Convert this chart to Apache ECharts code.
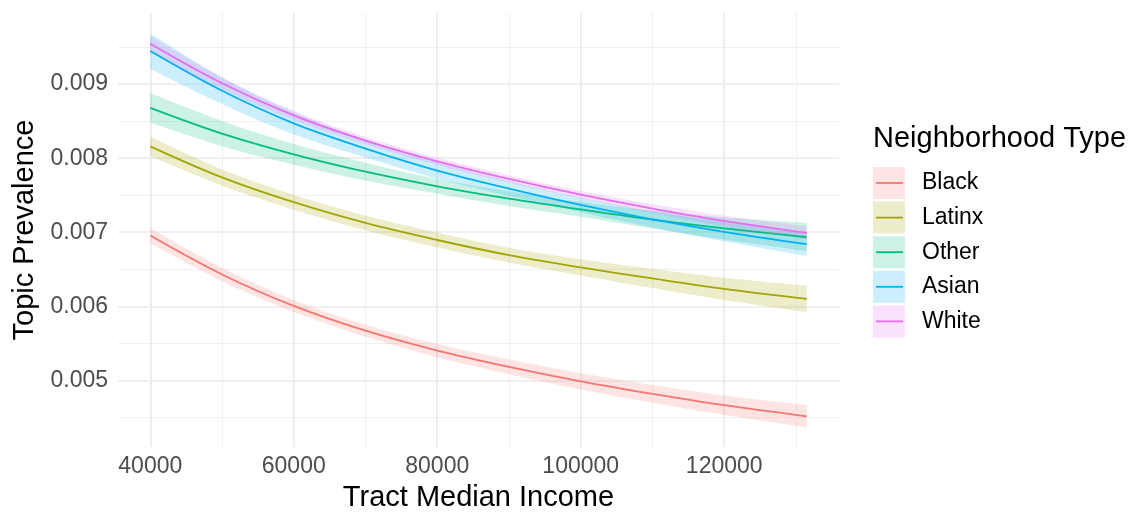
<!DOCTYPE html>
<html>
<head>
<meta charset="utf-8">
<script src="https://cdn.jsdelivr.net/npm/echarts@6/dist/echarts.min.js"></script>
<style>
  html, body { margin: 0; padding: 0; background: #ffffff; }
  #chart { width: 1137px; height: 513px; }
</style>
</head>
<body>
<div id="chart"></div>
<script>
// Tract median income at which the fitted curves are evaluated
const incomes = [40000, 50000, 60000, 70000, 80000, 90000, 100000, 110000, 120000, 131500];

const groups = ['Black', 'Latinx', 'Other', 'Asian', 'White'];
const groupColors = ['#F8766D', '#A3A500', '#00BF7D', '#00B0F6', '#E76BF3'];

// Fitted topic prevalence with lower / upper confidence bounds
const fitBlack  = [0.006955, 0.006430, 0.006005, 0.005670, 0.005402, 0.005182, 0.004987, 0.004818, 0.004664, 0.004514];
const lowBlack  = [0.006855, 0.006340, 0.005925, 0.005590, 0.005312, 0.005082, 0.004877, 0.004698, 0.004534, 0.004364];
const highBlack = [0.007055, 0.006520, 0.006085, 0.005750, 0.005492, 0.005282, 0.005097, 0.004938, 0.004794, 0.004664];

const fitLatinx  = [0.008160, 0.007740, 0.007405, 0.007125, 0.006895, 0.006690, 0.006525, 0.006376, 0.006236, 0.006100];
const lowLatinx  = [0.008030, 0.007630, 0.007305, 0.007025, 0.006795, 0.006590, 0.006415, 0.006246, 0.006086, 0.005920];
const highLatinx = [0.008290, 0.007850, 0.007505, 0.007225, 0.006995, 0.006790, 0.006635, 0.006506, 0.006386, 0.006280];

const fitOther  = [0.008680, 0.008332, 0.008052, 0.007817, 0.007620, 0.007453, 0.007308, 0.007170, 0.007051, 0.006935];
const lowOther  = [0.008480, 0.008162, 0.007912, 0.007697, 0.007520, 0.007353, 0.007208, 0.007050, 0.006901, 0.006745];
const highOther = [0.008880, 0.008502, 0.008192, 0.007937, 0.007720, 0.007553, 0.007408, 0.007290, 0.007201, 0.007125];

const fitAsian  = [0.009446, 0.008910, 0.008470, 0.008130, 0.007833, 0.007590, 0.007369, 0.007174, 0.007006, 0.006840];
const lowAsian  = [0.009206, 0.008730, 0.008320, 0.008010, 0.007723, 0.007490, 0.007269, 0.007064, 0.006876, 0.006680];
const highAsian = [0.009686, 0.009090, 0.008620, 0.008250, 0.007943, 0.007690, 0.007469, 0.007284, 0.007136, 0.007000];

const fitWhite  = [0.009545, 0.009012, 0.008577, 0.008237, 0.007958, 0.007720, 0.007507, 0.007320, 0.007152, 0.006990];
const lowWhite  = [0.009445, 0.008932, 0.008517, 0.008187, 0.007908, 0.007670, 0.007457, 0.007260, 0.007082, 0.006900];
const highWhite = [0.009645, 0.009092, 0.008637, 0.008287, 0.008008, 0.007770, 0.007557, 0.007380, 0.007222, 0.007080];

const fits  = [fitBlack, fitLatinx, fitOther, fitAsian, fitWhite];
const lows  = [lowBlack, lowLatinx, lowOther, lowAsian, lowWhite];
const highs = [highBlack, highLatinx, highOther, highAsian, highWhite];

// Axis ticks
const xMajorTicks = [40000, 60000, 80000, 100000, 120000];
const xMinorTicks = [50000, 70000, 90000, 110000, 130000];
const yMajorTicks = [0.005, 0.006, 0.007, 0.008, 0.009];
const yMinorTicks = [0.0045, 0.0055, 0.0065, 0.0075, 0.0085, 0.0095];

const FONT = "'Liberation Sans', Arial, Helvetica, sans-serif";
const SMOOTH = 0.35;

function withAlpha(hex, a) {
  const n = parseInt(hex.slice(1), 16);
  return 'rgba(' + ((n >> 16) & 255) + ',' + ((n >> 8) & 255) + ',' + (n & 255) + ',' + a + ')';
}

// Control points in the same spirit as the smoothed line series
function controlPoints(pts, s) {
  const cin = [], cout = [];
  for (let i = 0; i < pts.length; i++) {
    const p = pts[i];
    if (i === 0 || i === pts.length - 1) { cin.push(p); cout.push(p); continue; }
    const a = pts[i - 1], b = pts[i + 1];
    const vx = b[0] - a[0], vy = b[1] - a[1];
    const l0 = Math.hypot(p[0] - a[0], p[1] - a[1]);
    const l1 = Math.hypot(b[0] - p[0], b[1] - p[1]);
    const r = l1 / (l0 + l1);
    cin.push([p[0] - vx * s * (1 - r), p[1] - vy * s * (1 - r)]);
    cout.push([p[0] + vx * s * r, p[1] + vy * s * r]);
  }
  return { cin, cout };
}

function bezierPoints(pts, s, reverse) {
  const { cin, cout } = controlPoints(pts, s);
  const out = [];
  const steps = 24;
  const n = pts.length;
  const order = [];
  for (let i = 0; i < n; i++) order.push(reverse ? n - 1 - i : i);
  out.push(pts[order[0]]);
  for (let k = 0; k < n - 1; k++) {
    const i = order[k], j = order[k + 1];
    const p0 = pts[i], p3 = pts[j];
    const p1 = reverse ? cin[i] : cout[i];
    const p2 = reverse ? cout[j] : cin[j];
    for (let t = 1; t <= steps; t++) {
      const u = t / steps, m = 1 - u;
      out.push([
        m * m * m * p0[0] + 3 * m * m * u * p1[0] + 3 * m * u * u * p2[0] + u * u * u * p3[0],
        m * m * m * p0[1] + 3 * m * m * u * p1[1] + 3 * m * u * u * p2[1] + u * u * u * p3[1]
      ]);
    }
  }
  return out;
}

function ribbonSeries(gi) {
  const fill = withAlpha(groupColors[gi], 0.2);
  return {
    type: 'custom',
    name: groups[gi],
    xAxisIndex: 0,
    yAxisIndex: 0,
    silent: true,
    z: 2,
    dimensions: ['income', 'low', 'high'],
    encode: { x: 0, y: [1, 2] },
    data: incomes.map((x, i) => [x, lows[gi][i], highs[gi][i]]),
    renderItem(params, api) {
      if (params.dataIndexInside !== 0) return null;
      const n = params.dataInsideLength;
      const up = [], lo = [];
      for (let i = 0; i < n; i++) {
        const x = api.value(0, i);
        lo.push(api.coord([x, api.value(1, i)]));
        up.push(api.coord([x, api.value(2, i)]));
      }
      const pts = bezierPoints(up, SMOOTH, false).concat(bezierPoints(lo, SMOOTH, true));
      return {
        type: 'polygon',
        shape: { points: pts },
        style: { fill: fill, stroke: null }
      };
    }
  };
}

function lineSeries(gi) {
  return {
    type: 'line',
    name: groups[gi],
    xAxisIndex: 0,
    yAxisIndex: 0,
    z: 3,
    smooth: SMOOTH,
    symbol: 'none',
    silent: true,
    lineStyle: { color: groupColors[gi], width: 1.8 },
    itemStyle: { color: groupColors[gi] },
    data: incomes.map((x, i) => [x, fits[gi][i]])
  };
}

const X_MIN = 35500, X_MAX = 136000;
const Y_MIN = 0.0041, Y_MAX = 0.00996;

const chart = echarts.init(document.getElementById('chart'), null, { renderer: 'canvas' });

chart.setOption({
  animation: false,
  backgroundColor: '#ffffff',
  textStyle: { fontFamily: FONT },
  grid: { left: 118, right: 298, top: 13, bottom: 66, containLabel: false, outerBoundsMode: 'none' },
  xAxis: [
    {
      type: 'value', min: X_MIN, max: X_MAX, position: 'bottom',
      name: 'Tract Median Income', nameLocation: 'middle', nameGap: 36,
      nameTextStyle: { fontSize: 29, color: '#000000', fontFamily: FONT },
      axisLine: { show: false },
      axisTick: { show: false, customValues: xMajorTicks },
      axisLabel: {
        customValues: xMajorTicks, formatter: v => String(v),
        fontSize: 23, color: '#4D4D4D', margin: 8, fontFamily: FONT
      },
      splitLine: { show: true, lineStyle: { color: '#EBEBEB', width: 1.7 } }
    },
    {
      type: 'value', min: X_MIN, max: X_MAX, position: 'top',
      axisLine: { show: false },
      axisTick: { show: false, customValues: xMinorTicks },
      axisLabel: { show: false },
      splitLine: { show: true, lineStyle: { color: '#F0F0F0', width: 1 } }
    }
  ],
  yAxis: [
    {
      type: 'value', min: Y_MIN, max: Y_MAX, position: 'left',
      name: 'Topic Prevalence', nameLocation: 'middle', nameGap: 78,
      nameTextStyle: { fontSize: 29, color: '#000000', fontFamily: FONT },
      axisLine: { show: false },
      axisTick: { show: false, customValues: yMajorTicks },
      axisLabel: {
        customValues: yMajorTicks, formatter: v => v.toFixed(3),
        fontSize: 23, color: '#4D4D4D', margin: 10, fontFamily: FONT
      },
      splitLine: { show: true, lineStyle: { color: '#EBEBEB', width: 1.7 } }
    },
    {
      type: 'value', min: Y_MIN, max: Y_MAX, position: 'right',
      axisLine: { show: false },
      axisTick: { show: false, customValues: yMinorTicks },
      axisLabel: { show: false },
      splitLine: { show: true, lineStyle: { color: '#F0F0F0', width: 1 } }
    }
  ],
  legend: [
    {
      // key fills and labels
      orient: 'vertical', left: 873, top: 167, padding: 0,
      itemWidth: 32, itemHeight: 32, itemGap: 2.6,
      icon: 'rect', selectedMode: false,
      textStyle: { fontSize: 23, lineHeight: 32, color: '#000000', fontFamily: FONT, padding: [0, 0, 0, 12] },
      data: groups.map((g, i) => ({ name: g, itemStyle: { color: withAlpha(groupColors[i], 0.2) } }))
    },
    {
      // line strokes drawn across each key
      orient: 'vertical', left: 876, top: 167, padding: 0,
      itemWidth: 27, itemHeight: 32, itemGap: 2.6,
      icon: 'path://M0,0H27V1.8H0Z', symbolKeepAspect: true, selectedMode: false,
      textStyle: { fontSize: 23, lineHeight: 32, color: 'rgba(0,0,0,0)', fontFamily: FONT, padding: [0, 0, 0, 12] },
      data: groups.map((g, i) => ({ name: g, itemStyle: { color: groupColors[i] } }))
    }
  ],
  graphic: [
    {
      type: 'text', x: 873, y: 138.5, silent: true,
      style: {
        text: 'Neighborhood Type', fontSize: 29, fontFamily: FONT,
        fill: '#000000', align: 'left', verticalAlign: 'middle'
      }
    }
  ],
  series: groups.map((g, i) => ribbonSeries(i)).concat(groups.map((g, i) => lineSeries(i)))
});
</script>
</body>
</html>
